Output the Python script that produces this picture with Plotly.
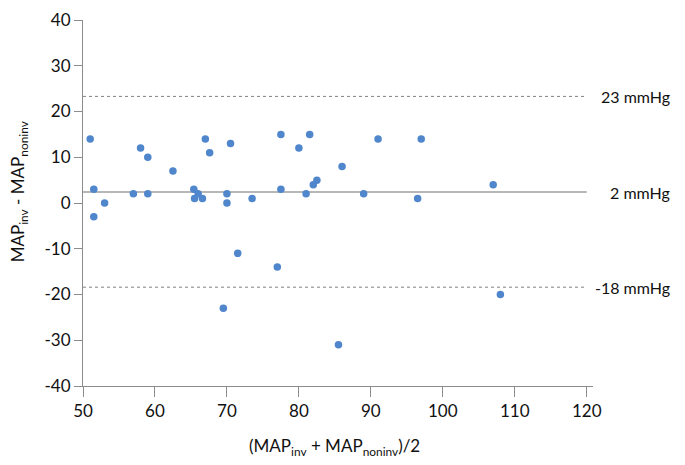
import plotly.graph_objects as go

# Bland-Altman data: mean of the two MAP measurements vs their difference
mean_map = [51, 51.5, 51.5, 53, 57, 58, 59, 59, 62.5, 65.4, 65.5, 66, 66.6, 67, 67.6,
            70, 70, 70.5, 71.5, 73.5, 77, 77.5, 77.5, 69.5, 80, 81, 81.5, 82, 82.5,
            85.5, 86, 89, 91, 96.5, 97, 107, 108]
diff_map = [14, 3, -3, 0, 2, 12, 10, 2, 7, 3, 1, 2, 1, 14, 11,
            2, 0, 13, -11, 1, -14, 15, 3, -23, 12, 2, 15, 4, 5,
            -31, 8, 2, 14, 1, 14, 4, -20]

bias = 2.4
upper_loa = 23.3
lower_loa = -18.4
line_labels = ["23 mmHg", "2 mmHg", "-18 mmHg"]

x_ticks = [50, 60, 70, 80, 90, 100, 110, 120]
y_ticks = [-40, -30, -20, -10, 0, 10, 20, 30, 40]
y_ticktext = ["-40", "-30", "-20", "-10", "0", "10", "20", "30", "40"]

FONT = "Lato"
axis_color = "#8c8c8c"
text_color = "#111111"

fig = go.Figure()

fig.add_trace(go.Scatter(
    x=[50, 120], y=[upper_loa, upper_loa], mode="lines",
    line=dict(color="#808080", width=1, dash="dot"), hoverinfo="skip", showlegend=False))
fig.add_trace(go.Scatter(
    x=[50, 120], y=[bias, bias], mode="lines",
    line=dict(color="#707070", width=1.2), hoverinfo="skip", showlegend=False))
fig.add_trace(go.Scatter(
    x=[50, 120], y=[lower_loa, lower_loa], mode="lines",
    line=dict(color="#808080", width=1, dash="dot"), hoverinfo="skip", showlegend=False))

fig.add_trace(go.Scatter(
    x=mean_map, y=diff_map, mode="markers",
    marker=dict(color="#4f86cc", size=7.5, line=dict(width=0)),
    showlegend=False))

for val, lab in zip([upper_loa, bias, lower_loa], line_labels):
    fig.add_annotation(x=1.155, xref="paper", y=val, yref="y", text=lab,
                       showarrow=False, xanchor="right", yanchor="middle",
                       font=dict(family=FONT, size=16, color=text_color))

fig.add_annotation(x=-0.125, xref="paper", y=0.53, yref="paper",
                   text="MAP<sub>inv</sub> - MAP<sub>noninv</sub>",
                   textangle=-90, showarrow=False, xanchor="center", yanchor="middle",
                   font=dict(family=FONT, size=17, color=text_color))
fig.add_annotation(x=0.494, xref="paper", y=-0.168, yref="paper",
                   text="(MAP<sub>inv</sub> + MAP<sub>noninv</sub>)/2",
                   showarrow=False, xanchor="center", yanchor="middle",
                   font=dict(family=FONT, size=17, color=text_color))

fig.update_layout(
    width=677, height=457,
    margin=dict(l=75, r=92, t=12, b=79, autoexpand=False),
    paper_bgcolor="white", plot_bgcolor="white",
    font=dict(family=FONT, size=17, color=text_color),
    xaxis=dict(range=[50, 120.87], tickvals=x_ticks, ticks="outside", ticklen=10,
               tickcolor=axis_color, showline=True, linecolor=axis_color, linewidth=1,
               showgrid=False, zeroline=False, automargin=False,
               tickfont=dict(family=FONT, size=17)),
    yaxis=dict(range=[-40, 40], tickvals=y_ticks, ticktext=y_ticktext, ticks="outside",
               ticklen=8, tickcolor=axis_color, showline=True, linecolor=axis_color,
               linewidth=1, showgrid=False, zeroline=False, automargin=False,
               tickfont=dict(family=FONT, size=17)),
)

fig.write_html("out.html")
